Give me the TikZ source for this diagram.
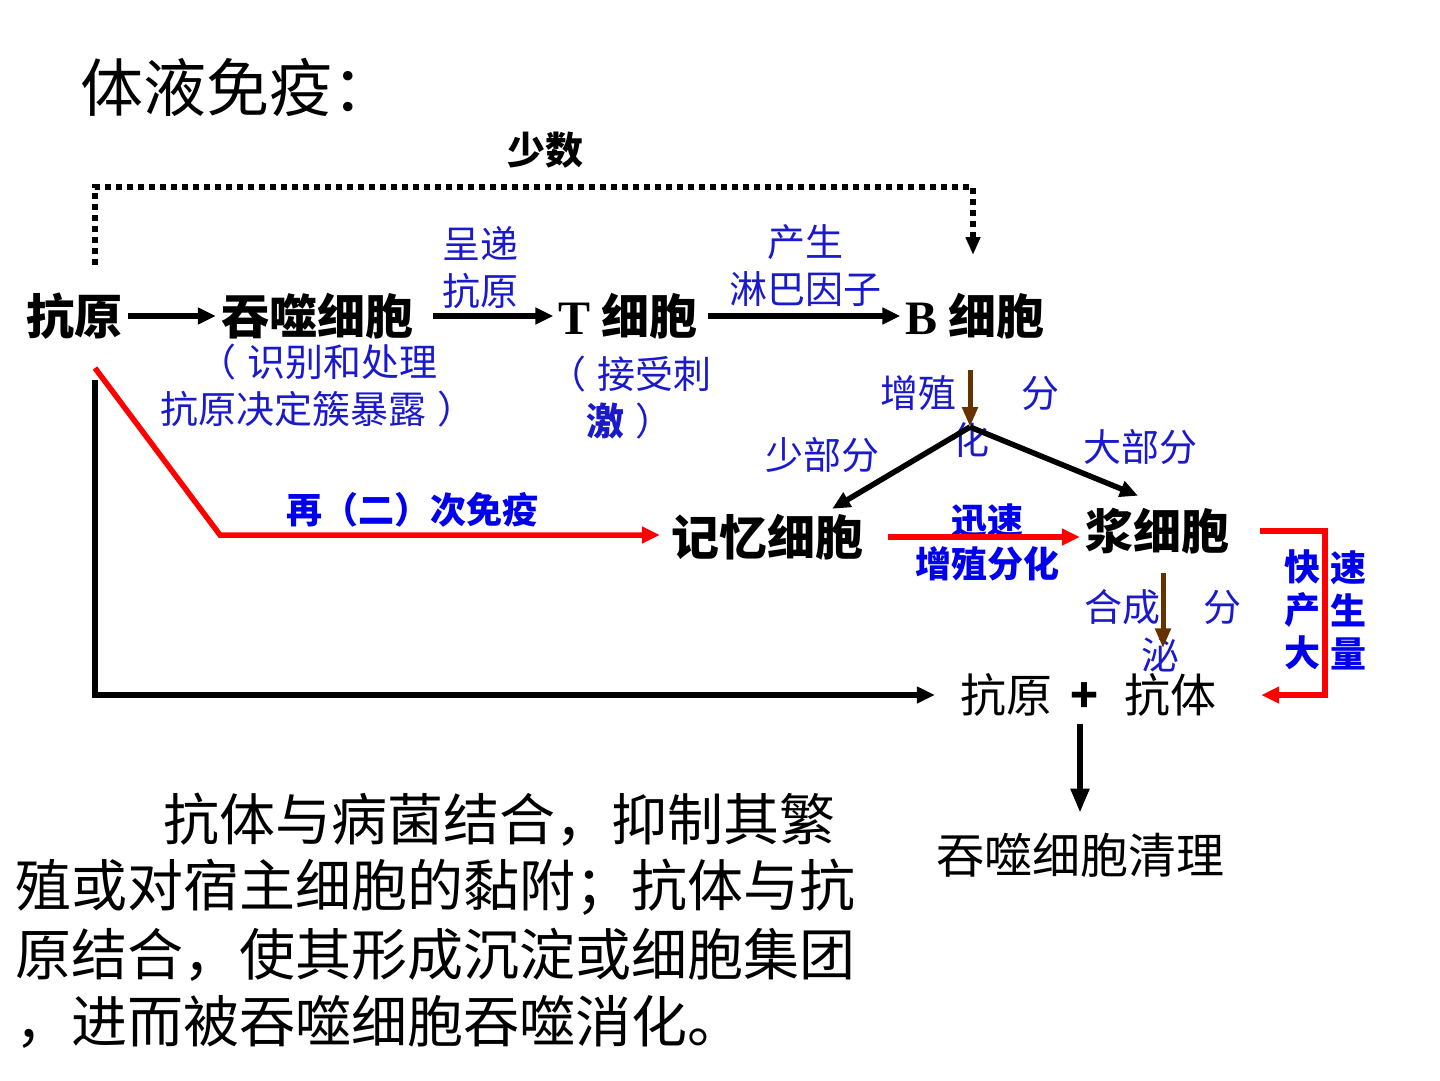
\documentclass[tikz,border=0pt]{standalone}
\usepackage{fontspec}
\setmainfont{Noto Sans CJK SC}
\newfontfamily\latinserif{Liberation Serif}
\usetikzlibrary{arrows.meta, positioning, calc}
\definecolor{labelblue}{HTML}{1A1ACC}
\definecolor{keyblue}{HTML}{0000EE}
\definecolor{growthbrown}{HTML}{663300}

\begin{document}
\begin{tikzpicture}[
    x=1pt, y=-1pt,
    cell/.style={font=\fontsize{48}{52}\selectfont\bfseries, inner sep=5pt},
    plain/.style={font=\fontsize{#1}{#1}\selectfont, inner sep=0pt},
    note/.style={text=labelblue, font=\fontsize{38}{47}\selectfont, align=center, inner sep=0pt},
    keynote/.style={text=keyblue, font=\fontsize{36}{43}\selectfont\bfseries, align=center, inner sep=0pt},
    flow/.style={line width=5.5pt, -{Triangle[length=18pt, width=16pt]}},
    redflow/.style={flow, draw=red},
    growth/.style={line width=5pt, draw=growthbrown, -{Triangle[length=20pt, width=15pt]}},
    hint/.style={line width=6pt, dash pattern=on 6pt off 5pt, -{Triangle[length=18pt, width=14pt]}},
]

\useasboundingbox (0,0) rectangle (1440,1080);

% title and main cells
\node[plain=63, anchor=west] (title) at (80,87) {体液免疫：};
\node[cell] (antigen) at (75,316) {抗原};
\node[cell] (phago) at (317,316) {吞噬细胞};
\node[cell] (tcell) at (628,316) {{\latinserif T} 细胞};
\node[cell] (bcell) at (975,316) {{\latinserif B} 细胞};
\node[cell] (memory) at (767,537) {记忆细胞};
\node[cell] (plasma) at (1157,531) {浆细胞};
\node[plain=46] (complex) at (1088,695) {抗原\hspace{18pt}\textbf{+}\hspace{26pt}抗体};
\node[plain=48] (cleanup) at (1080,855) {吞噬细胞清理};

% labels
\node[plain=38, font=\fontsize{38}{38}\selectfont\bfseries] (few) at (545,150) {少数};
\node[note] (present) at (480,268) {呈递\\抗原};
\node[note] (lymph) at (805,266) {产生\\淋巴因子};
\node[note] (recog) at (318,386) {（\;识别和处理\\抗原决定簇暴露\;）};
\node[note] (stim) at (630,398) {（\;接受刺\\\textbf{激}\;）};
\node[note] (grow1) at (918,393) {增殖};
\node[note] (grow2) at (1040,393) {分};
\node[note] (grow3) at (970,440) {化};
\node[note] (minor) at (822,455) {少部分};
\node[note] (major) at (1140,447) {大部分};
\node[keynote] (quick) at (987,542) {迅速\\增殖分化};
\node[keynote] (again) at (412,510) {再（二）次免疫};
\node[note] (secr1) at (1122,607) {合成};
\node[note] (secr2) at (1222,607) {分};
\node[note] (secr3) at (1160,655) {泌};
\node[keynote] (fastcol) at (1302,610) {快\\产\\大};
\node[keynote] (bulkcol) at (1348,610) {速\\生\\量};

% text block
\node[plain=56, anchor=west] (para1) at (163,820) {抗体与病菌结合，抑制其繁};
\node[plain=56, anchor=west] (para2) at (15,887) {殖或对宿主细胞的黏附；抗体与抗};
\node[plain=56, anchor=west] (para3) at (15,955) {原结合，使其形成沉淀或细胞集团};
\node[plain=56, anchor=west] (para4) at (15,1022) {，进而被吞噬细胞吞噬消化。};

% connectors
\coordinate (hintstart) at (95,265);
\coordinate (hintend) at (973,255);
\coordinate (split) at (970,427);
\coordinate (redstart) at (95,368);
\coordinate (redbend) at (220,535);
\coordinate (blackstart) at (95,380);
\coordinate (bracket) at (1325,533);

\draw[hint] (hintstart) -- ++(0,-78) -| (hintend);
\draw[flow] (antigen) -- (phago);
\draw[flow, shorten <=15pt] (phago) -- (tcell);
\draw[flow, shorten <=5pt] (tcell) -- (bcell);
\draw[growth, shorten <=26pt] (bcell.south -| split) -- (split);
\draw[flow] (split) -- ([xshift=-36pt]memory.north east);
\draw[flow] (split) -- ([xshift=-19pt, yshift=7pt]plasma.north);
\draw[redflow, shorten <=20pt] (memory.east) -- (memory.east -| plasma.west);
\draw[redflow, shorten >=6pt] (redstart) -- (redbend) -- (redbend -| memory.west);
\draw[flow, shorten >=25pt] (blackstart) |- (complex.west);
\draw[growth, shorten <=14pt, shorten >=25pt] ([xshift=6pt]plasma.south) -- ([xshift=6pt]plasma.south |- complex.north);
\draw[redflow, shorten <=26pt, shorten >=45pt] (plasma.east) -- (plasma.east -| bracket) |- (complex.east);
\draw[flow, -{Triangle[length=24pt, width=18pt]}, shorten <=7pt, shorten >=20pt] (complex.south -| cleanup.north) -- (cleanup.north);

\end{tikzpicture}
\end{document}
